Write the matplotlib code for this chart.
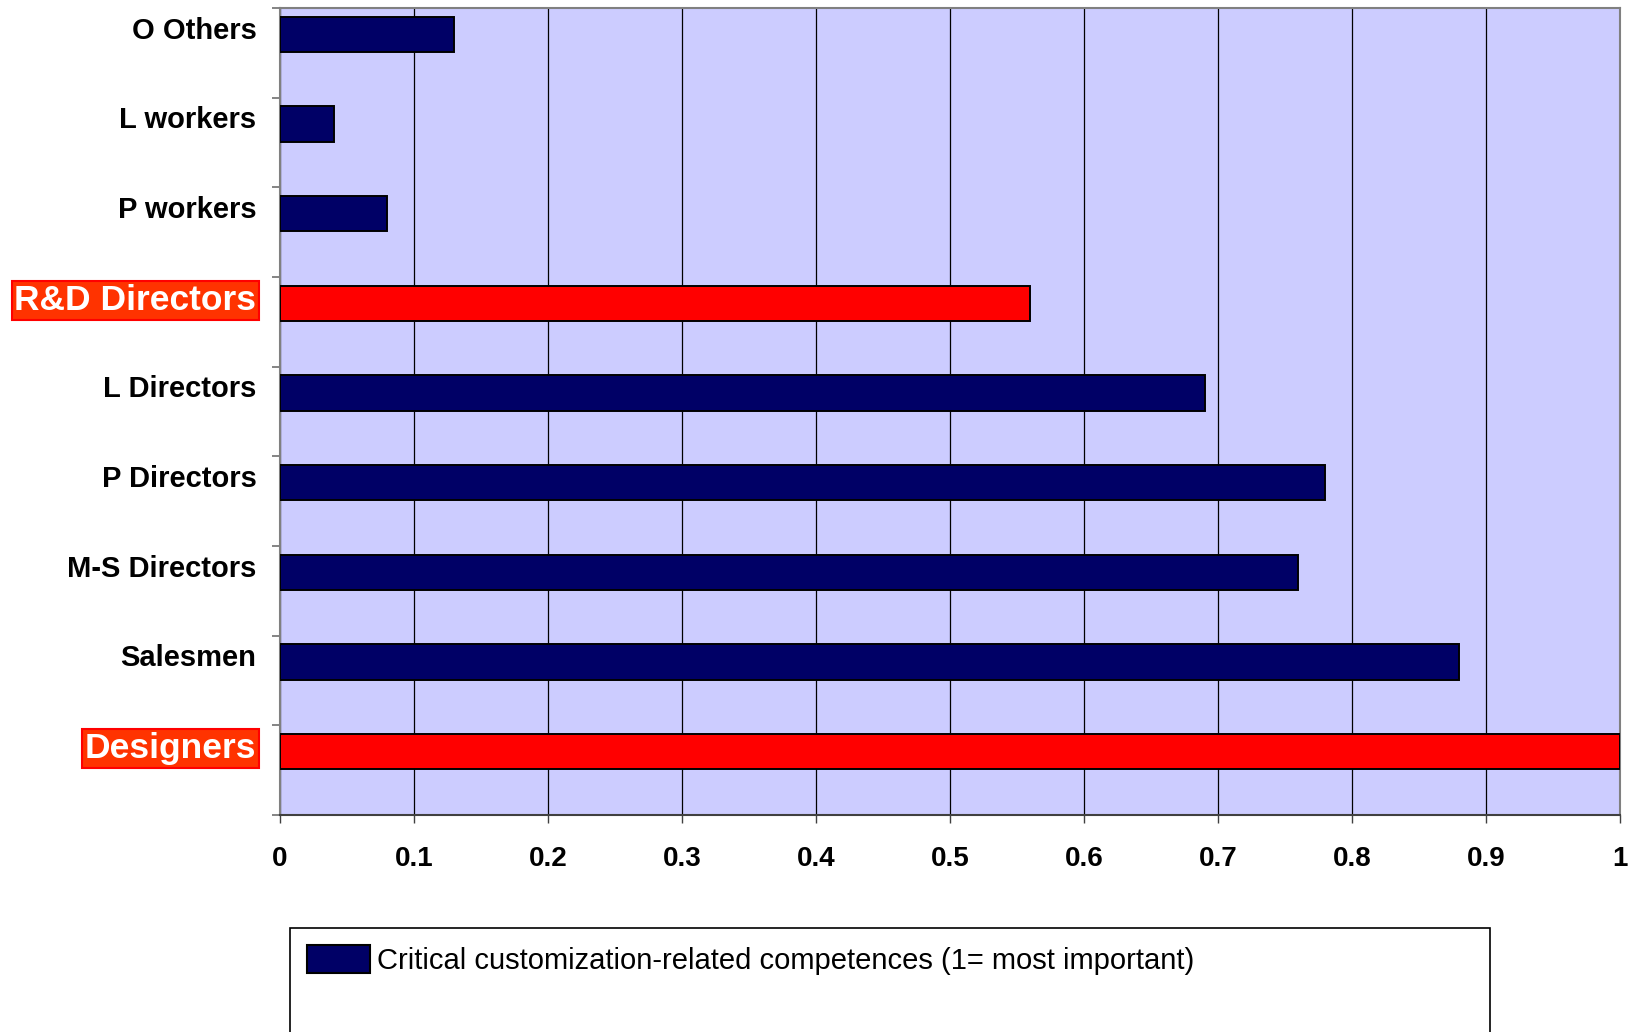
import matplotlib
matplotlib.use("Agg")
import matplotlib.pyplot as plt
from matplotlib.patches import Rectangle, Patch
import numpy as np

# ---- data (bottom to top) ----
categories = ["Designers", "Salesmen", "M-S Directors", "P Directors", "L Directors",
              "R&D Directors", "P workers", "L workers", "O Others"]
values = [1.00, 0.88, 0.76, 0.78, 0.69, 0.56, 0.08, 0.04, 0.13]
highlighted = ["Designers", "R&D Directors"]
x_ticks = [0, 0.1, 0.2, 0.3, 0.4, 0.5, 0.6, 0.7, 0.8, 0.9, 1.0]
x_tick_labels = ["0", "0.1", "0.2", "0.3", "0.4", "0.5", "0.6", "0.7", "0.8", "0.9", "1"]
series_name = "Critical customization-related competences (1= most important)"

NAVY = "#000066"
RED = "#FF0000"
BG = "#CCCCFF"

font = ["Liberation Sans", "DejaVu Sans"]

W, H = 1631, 1032
fig = plt.figure(figsize=(W / 100, H / 100), dpi=100)
L, R, T, B = 280, 1620, 8, 815
ax = fig.add_axes([L / W, 1 - B / H, (R - L) / W, (B - T) / H])
ax.set_facecolor(BG)

n = len(categories)
pos = np.arange(n)
colors = [RED if c in highlighted else NAVY for c in categories]
bar_offset = 0.205
ax.barh(pos + bar_offset, values, height=0.395, color=colors,
        edgecolor="black", linewidth=1.4, zorder=3)

ax.set_xlim(0, 1)
ax.set_ylim(-0.5, n - 0.5)

# x axis
ax.set_xticks(x_ticks)
ax.set_xticklabels(x_tick_labels, fontsize=20, fontweight="bold", family=font)
ax.tick_params(axis="x", direction="out", length=6, width=1, color="#404040", pad=16)
ax.xaxis.grid(True, color="black", linewidth=0.9, zorder=1)
ax.set_axisbelow(True)

# y axis: labels beside bars, tick marks at category boundaries
ax.set_yticks(pos + 0.28)
ax.set_yticklabels(categories)
ax.tick_params(axis="y", which="major", length=0, pad=17)
ax.set_yticks(np.arange(n + 1) - 0.5, minor=True)
ax.tick_params(axis="y", which="minor", direction="out", length=6, width=1.2, color="#707070")
for lbl in ax.get_yticklabels():
    lbl.set_family(font)
    lbl.set_fontweight("bold")
    if lbl.get_text() in highlighted:
        lbl.set_fontsize(25.5)
        lbl.set_color("white")
        lbl.set_bbox(dict(facecolor="#FF3300", edgecolor="#FF0000", linewidth=1.5,
                          boxstyle="square,pad=0.08"))
    else:
        lbl.set_fontsize(21)
        lbl.set_color("black")

for side in ["left", "top", "right"]:
    ax.spines[side].set_color("#808080")
    ax.spines[side].set_linewidth(1.5)
ax.spines["bottom"].set_color("#404040")
ax.spines["bottom"].set_linewidth(1.5)

# legend box (extends below the figure edge)
fig.patches.append(Rectangle((290 / W, -0.05), (1490 - 290) / W, 0.05 + 1 - 928 / H,
                             transform=fig.transFigure, facecolor="white",
                             edgecolor="black", linewidth=1.2, zorder=0))
handle = Patch(facecolor=NAVY, edgecolor="black", linewidth=1.5)
fig.legend([handle], [series_name], loc="upper left",
           bbox_to_anchor=(307 / W, 1 - 945 / H),
           frameon=False, borderpad=0, borderaxespad=0,
           handlelength=2.15, handleheight=1.12, handletextpad=0.26,
           prop=dict(family=font, size=21))

fig.savefig("out.png", dpi=100)
